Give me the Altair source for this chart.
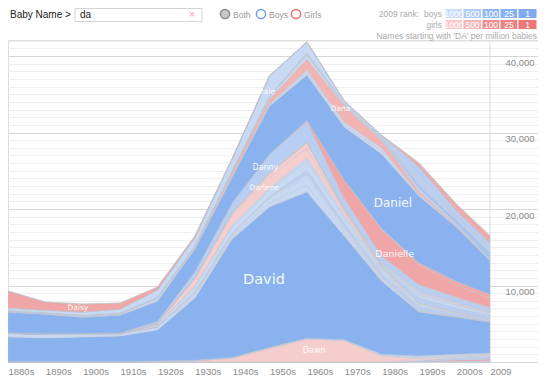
import altair as alt
import pandas as pd
import numpy as np

# ---------------- data (per million babies) ----------------
years = [1880, 1890, 1900, 1910, 1920, 1930, 1940, 1950, 1960, 1970, 1980, 1990, 2000, 2009]

dayton   = [0, 0, 0, 0, 0, 0, 0, 0, 0, 0, 0, 50, 100, 150]
dayana   = [0, 0, 0, 0, 0, 0, 0, 0, 0, 0, 0, 30, 150, 250]
dawson   = [0, 0, 0, 0, 0, 0, 0, 0, 0, 0, 0, 100, 300, 400]
dawn     = [0, 0, 0, 0, 50, 150, 500, 1800, 3000, 2800, 800, 250, 150, 100]
davon    = [0, 0, 0, 0, 0, 0, 0, 0, 0, 20, 100, 200, 150, 100]
davis    = [80, 80, 80, 80, 80, 80, 100, 100, 100, 100, 100, 150, 150, 150]
david    = [3190, 3060, 3190, 3320, 4050, 8140, 15480, 18360, 19120, 13550, 9590, 5760, 4880, 4080]
dave     = [470, 470, 370, 300, 400, 400, 100, 100, 80, 50, 30, 20, 10, 10]
daryl    = [0, 0, 0, 0, 30, 200, 300, 500, 800, 400, 200, 100, 50, 30]
darryl   = [0, 0, 0, 0, 20, 200, 300, 600, 1000, 450, 200, 100, 50, 30]
darrin   = [0, 0, 0, 0, 0, 0, 20, 100, 400, 300, 100, 40, 20, 10]
darren   = [0, 0, 0, 0, 0, 0, 30, 100, 600, 500, 450, 450, 300, 250]
darrell  = [30, 30, 30, 40, 200, 700, 900, 900, 1200, 600, 300, 200, 100, 60]
darnell  = [0, 0, 0, 0, 30, 100, 150, 200, 400, 450, 350, 200, 100, 50]
darlene  = [0, 0, 0, 0, 150, 900, 1400, 1400, 1300, 400, 100, 40, 20, 10]
darla    = [0, 0, 0, 0, 50, 150, 250, 500, 700, 300, 100, 50, 30, 20]
darius   = [0, 0, 0, 0, 0, 0, 0, 0, 20, 80, 200, 650, 500, 450]
darian   = [0, 0, 0, 0, 0, 0, 0, 0, 0, 20, 100, 350, 350, 250]
daquan   = [0, 0, 0, 0, 0, 0, 0, 0, 0, 0, 50, 300, 150, 50]
daphne   = [0, 0, 0, 0, 20, 40, 60, 80, 100, 100, 120, 150, 150, 120]
dante    = [0, 0, 0, 0, 0, 0, 0, 20, 50, 150, 250, 500, 500, 400]
danny    = [50, 50, 50, 60, 250, 700, 1200, 2400, 2500, 1100, 700, 400, 250, 150]
danielle = [0, 0, 0, 0, 0, 0, 0, 20, 200, 2400, 3500, 2600, 1600, 1200]
daniela  = [0, 0, 0, 0, 0, 0, 0, 0, 0, 30, 100, 250, 450, 500]
daniel   = [2720, 2580, 2160, 2340, 2640, 3010, 3390, 6280, 5950, 6920, 9750, 8760, 7140, 4380]
dane     = [0, 0, 0, 0, 0, 0, 80, 150, 300, 250, 350, 150, 100, 80]
dana_m   = [0, 0, 0, 0, 0, 0, 50, 110, 350, 400, 400, 100, 30, 10]
dana_f   = [0, 0, 0, 0, 0, 60, 520, 650, 1440, 2090, 1050, 390, 130, 50]
dan      = [120, 120, 150, 180, 390, 240, 120, 300, 490, 60, 20, 20, 10, 10]
damon    = [0, 0, 0, 0, 0, 0, 0, 50, 200, 200, 150, 300, 150, 80]
damian   = [0, 0, 0, 0, 0, 0, 0, 0, 30, 20, 80, 450, 500, 900]
dalton   = [0, 0, 0, 0, 0, 0, 0, 0, 20, 20, 40, 600, 300, 250]
dallas   = [100, 100, 100, 100, 150, 100, 80, 60, 80, 50, 40, 200, 250, 450]
dale     = [300, 300, 400, 500, 900, 1100, 1500, 2600, 1400, 300, 150, 100, 50, 20]
dakota_m = [0, 0, 0, 0, 0, 0, 0, 0, 0, 0, 100, 1500, 600, 500]
dakota_f = [0, 0, 0, 0, 0, 0, 0, 0, 0, 0, 50, 370, 360, 250]
daisy    = [2220, 1050, 1050, 780, 390, 200, 100, 50, 30, 30, 40, 150, 500, 650]
dahlia   = [0, 0, 0, 0, 0, 0, 0, 0, 0, 0, 0, 0, 50, 150]

# tick labels
x_ticks = [1880, 1890, 1900, 1910, 1920, 1930, 1940, 1950, 1960, 1970, 1980, 1990, 2000, 2009]
rank_steps = ["1000", "500", "100", "25", "1"]

# ---------------- styles ----------------
B1 = "#8ab2ef"; B2 = "#a7c4f1"; B3 = "#b8cff3"; B4 = "#c7d9f3"
P2 = "#f0a6a6"; P3 = "#f2b3b3"; P4 = "#f6cdcd"

# bottom -> top (alphabetical, reversed)
series = [
    ("Dayton", "Dayton", dayton, B3), ("Dayana", "Dayana", dayana, P2),
    ("Dawson", "Dawson", dawson, B3), ("Dawn", "Dawn", dawn, P4),
    ("Davon", "Davon", davon, B4), ("Davis", "Davis", davis, B4),
    ("David", "David", david, B1), ("Dave", "Dave", dave, B4),
    ("Daryl", "Daryl", daryl, B4), ("Darryl", "Darryl", darryl, B4),
    ("Darrin", "Darrin", darrin, B4), ("Darren", "Darren", darren, B3),
    ("Darrell", "Darrell", darrell, B4), ("Darnell", "Darnell", darnell, B4),
    ("Darlene", "Darlene", darlene, P4), ("Darla", "Darla", darla, P4),
    ("Darius", "Darius", darius, B3), ("Darian", "Darian", darian, B4),
    ("Daquan", "Daquan", daquan, B4), ("Daphne", "Daphne", daphne, P4),
    ("Dante", "Dante", dante, B3), ("Danny", "Danny", danny, B3),
    ("Danielle", "Danielle", danielle, P2), ("Daniela", "Daniela", daniela, P2),
    ("Daniel", "Daniel", daniel, B1), ("Dane", "Dane", dane, B4),
    ("Dana (M)", "Dana", dana_m, B4), ("Dana (F)", "Dana", dana_f, P3),
    ("Dan", "Dan", dan, B4), ("Damon", "Damon", damon, B4),
    ("Damian", "Damian", damian, B2), ("Dalton", "Dalton", dalton, B3),
    ("Dallas", "Dallas", dallas, B3), ("Dale", "Dale", dale, B4),
    ("Dakota (M)", "Dakota", dakota_m, B3), ("Dakota (F)", "Dakota", dakota_f, P2),
    ("Daisy", "Daisy", daisy, P2), ("Dahlia", "Dahlia", dahlia, P4),
]

rows = []
for i, (key, label, vals, col) in enumerate(series):
    for yr, v in zip(years, vals):
        rows.append({"year": yr, "name": key, "value": v, "ord": i, "color": col})
df = pd.DataFrame(rows)

# label positions: centre of each layer at a chosen year
cum = np.cumsum(np.array([s[2] for s in series], dtype=float), axis=0)
keys = [s[0] for s in series]
label_spec = [("David", 1948.5, 14.5), ("Daniel", 1983.0, 12), ("Danielle", 1983.5, 9.5),
              ("Dana (F)", 1969.0, 7.5), ("Danny", 1948.9, 8), ("Darlene", 1948.6, 7.5),
              ("Dale", 1949.2, 7.5), ("Daisy", 1898.7, 7.5), ("Dawn", 1961.9, 8)]
lab_rows = []
for key, yr, fs in label_spec:
    i = keys.index(key)
    top = np.interp(yr, years, cum[i])
    bot = np.interp(yr, years, cum[i - 1]) if i > 0 else 0.0
    lab_rows.append({"year": yr, "yv": (top + bot) / 2, "label": series[i][1], "fs": fs})
labdf = pd.DataFrame(lab_rows)

W, H = 530, 322
xs = alt.Scale(domain=[1880, 2021.85], nice=False, zero=False)
ys = alt.Scale(domain=[0, 42100], nice=False)

FONT = "Liberation Sans"
x_axis = alt.Axis(values=x_ticks, labelExpr="datum.value == 2009 ? '2009' : datum.value + 's'",
                  labelAlign="left", grid=False, ticks=False, domain=False, labelColor="#8a8a8a",
                  labelFontSize=9.5, labelFont=FONT, labelPadding=4, title=None,
                  labelFlush=False, labelOverlap=False)
y_axis = alt.Axis(orient="right", values=list(range(0, 42001, 1000)),
                  labelExpr="datum.value % 10000 === 0 && datum.value > 0 ? format(datum.value, ',') : ''",
                  gridColor={"condition": {"test": "datum.value % 10000 === 0", "value": "#d6d6d6"},
                             "value": "#efefef"},
                  domain=False, ticks=False, offset=-33, labelPadding=0, labelAlign="left",
                  labelBaseline="top", labelOffset=1, labelFontSize=9.5, labelFont=FONT,
                  labelColor="#8a8a8a", title=None, labelOverlap=False, labelFlush=False)

rule = alt.Chart(pd.DataFrame({"year": [2009]})).mark_rule(color="#dcdcdc", strokeWidth=1).encode(
    x=alt.X("year:Q", scale=xs, axis=x_axis))

areas = alt.Chart(df).mark_area(interpolate="linear", stroke="#bfc3cc", strokeWidth=0.5,
                                strokeOpacity=0.8).encode(
    x=alt.X("year:Q", scale=xs, axis=x_axis),
    y=alt.Y("value:Q", stack="zero", scale=ys, axis=y_axis),
    color=alt.Color("color:N", scale=None),
    detail="name:N",
    order=alt.Order("ord:Q", sort="ascending"),
)

labels = alt.Chart(labdf).mark_text(color="white", font="DejaVu Sans", baseline="middle",
                                    align="center", opacity=0.92).encode(
    x=alt.X("year:Q", scale=xs, axis=x_axis),
    y=alt.Y("yv:Q", scale=ys, axis=y_axis),
    text="label:N",
    size=alt.Size("fs:Q", scale=None),
)

# ---------------- header (pixel positions relative to plot origin) ----------------
one = pd.DataFrame({"a": [0]})


def txt(x, y, s, size=8.5, color="#aaaaaa", align="left", weight="normal"):
    return alt.Chart(one).mark_text(text=s, align=align, baseline="middle", fontSize=size,
                                    color=color, font=FONT, fontWeight=weight).encode(
        x=alt.value(x), y=alt.value(y))


def box(x1, x2, y1, y2, fill, stroke="white", sw=1):
    return alt.Chart(one).mark_rect(fill=fill, stroke=stroke, strokeWidth=sw).encode(
        x=alt.value(x1), x2=alt.value(x2), y=alt.value(y1), y2=alt.value(y2))


def dot(x, y, fill, stroke):
    return alt.Chart(one).mark_point(shape="circle", size=85, filled=True, fill=fill,
                                     stroke=stroke, strokeWidth=1.5, opacity=1).encode(
        x=alt.value(x), y=alt.value(y))


header = [
    txt(2, -25.5, "Baby Name >", size=10, color="#222222"),
    box(67, 194, -31.5, -18.5, "white", stroke="#d4d4d4", sw=1),
    txt(72, -25.5, "da", size=10, color="#222222"),
    txt(184, -25.5, "\u00d7", size=11, color="#f2a0a0", align="center"),
    dot(217, -26, "#c8c8c8", "#8a8a8a"),
    txt(225, -25.5, "Both", color="#999999"),
    dot(253, -26, "white", "#6f9fe8"),
    txt(261, -25.5, "Boys", color="#999999"),
    dot(288, -26, "white", "#ee7070"),
    txt(296, -25.5, "Girls", color="#999999"),
    txt(411, -26.5, "2009 rank:", align="right"),
    txt(434, -26.5, "boys", align="right"),
    txt(434, -15.5, "girls", align="right"),
    txt(529, -4, "Names starting with 'DA' per million babies", align="right"),
]
bx = [437, 455, 474, 492, 510, 529]
boy_cols = ["#c8dcf9", "#b2cdf7", "#90b7f2", "#87b1f1", "#80abf0"]
girl_cols = ["#f9caca", "#f5b7b7", "#ef8d8d", "#ec8282", "#ea7878"]
for j, lab in enumerate(rank_steps):
    header.append(box(bx[j], bx[j + 1], -31.5, -21.5, boy_cols[j]))
    header.append(box(bx[j], bx[j + 1], -20.5, -10.5, girl_cols[j]))
    cx = (bx[j] + bx[j + 1]) / 2
    header.append(txt(cx, -26.5, lab, color="white", align="center"))
    header.append(txt(cx, -15.5, lab, color="white", align="center"))

chart = alt.layer(rule, areas, labels, *header).properties(
    width=W, height=H,
    padding={"left": 0, "top": 32, "right": 0, "bottom": 13},
    autosize=alt.AutoSizeParams(type="none"),
).configure_view(stroke=None).configure(background="white")

chart.save("out.html", embed_options={"renderer": "svg", "actions": False})
